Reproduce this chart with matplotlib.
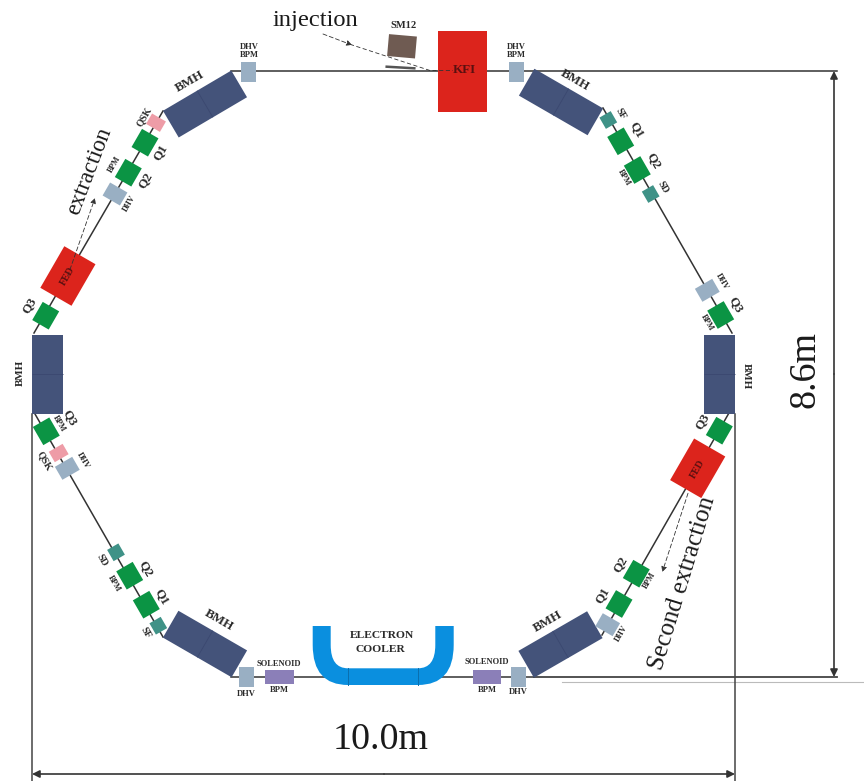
import numpy as np
import matplotlib
matplotlib.use("Agg")
import matplotlib.pyplot as plt
from matplotlib.patches import Polygon, PathPatch
from matplotlib.path import Path

plt.rcParams["font.family"] = ["Liberation Serif", "DejaVu Serif"]

W, H = 864, 781

# element centres (x, y, beam angle in degrees, image coords, y down)
BMH = [(205, 104, -30.5), (561, 102, 30), (719.5, 374.3, 90), (47.2, 374.3, 90), (205, 644, 30), (560.5, 644.5, -30)]
QUADS = [(145, 142.7, 120), (128.3, 172.7, 120), (45.7, 315.7, 120), (620.7, 141.3, 60), (637.3, 170, 60),
         (720.7, 315, 60), (719.3, 430.7, 120), (636.3, 573.7, 120), (619, 604, 120), (46.3, 431.3, 60),
         (129.7, 575.7, 60), (146.3, 604.7, 60)]
DHV = [(248.3, 72, 0), (516.3, 72, 0), (246.5, 677, 0), (518.7, 677, 0), (115, 194, 120), (707.3, 290.3, 60),
       (67.3, 468.3, 60), (607.7, 624.7, 120)]
QSK = [(156, 122.7, 120), (58.7, 453, 60)]
SEXT = [(608.3, 120, 60), (650.7, 194, 60), (116, 552.3, 60), (158.3, 625.7, 60)]
FED = [(67.9, 276, 120), (697.7, 468.3, 120)]
SOLENOID = [(279.7, 677, 0), (487, 677, 0)]

# beam line segments (x0, y0, x1, y1)
BEAM = [(231, 71, 535, 71), (603, 108, 732, 333), (729.7, 411.7, 602, 635), (231, 676.7, 534, 676.7),
        (163, 111, 34, 333), (35, 414, 163, 637)]

# (text, x, y, rotation, font px)
LABELS = [
    ("SM12", 404, 25.7, 0, 10.5), ("DHV", 249.3, 46.7, 0, 8.5), ("BPM", 249.3, 55.3, 0, 8.5),
    ("BMH", 190, 81.7, 30, 13), ("QSK", 143.7, 116.7, 60, 10), ("Q1", 160.7, 152.3, 60, 13),
    ("Q2", 145, 180, 60, 13), ("BPM", 114.3, 164, 60, 8), ("DHV", 130, 203.7, 60, 8),
    ("Q3", 29.3, 305.7, 60, 13), ("DHV", 516.3, 46.7, 0, 8.5), ("BPM", 516.3, 55.3, 0, 8.5),
    ("BMH", 575, 80.3, -30, 13), ("SF", 621, 114, -60, 10), ("Q1", 636.7, 130, -60, 13),
    ("Q2", 653.3, 160.7, -60, 13), ("BPM", 624, 177.7, -60, 8), ("SD", 663.3, 187.3, -60, 10),
    ("DHV", 722, 281.7, -60, 8), ("Q3", 735.7, 304.3, -60, 13), ("BPM", 706.7, 322.7, -60, 8),
    ("BMH", 20.3, 373.3, 90, 11), ("Q3", 70, 417.7, -60, 13), ("BPM", 59.3, 424, -60, 8),
    ("QSK", 45, 460.7, -60, 10), ("DHV", 83, 460.7, -60, 8), ("SD", 102.3, 560.3, -60, 10),
    ("Q2", 146, 568.7, -60, 13), ("BPM", 114.3, 583.3, -60, 8), ("Q1", 162, 596.7, -60, 13),
    ("SF", 146, 633.3, -60, 10), ("BMH", 219.3, 620.7, -30, 13), ("SOLENOID", 279.3, 664.3, 0, 8.5),
    ("BPM", 279.3, 689.7, 0, 8.5), ("DHV", 246, 693.7, 0, 8.5), ("ELECTRON", 381.7, 635.7, 0, 11.5),
    ("COOLER", 380, 649, 0, 11.5), ("BMH", 746.7, 375.7, -90, 11), ("Q3", 702.3, 421.7, 60, 13),
    ("Q2", 620, 564, 60, 13), ("BPM", 650, 580.7, 60, 8), ("Q1", 602.7, 595, 60, 13),
    ("BMH", 547.7, 621.7, 30, 13), ("DHV", 622, 633.3, 60, 8), ("SOLENOID", 487.3, 662, 0, 8.5),
    ("BPM", 487.3, 689.7, 0, 8.5), ("DHV", 518.7, 692, 0, 8.5),
]
DARK_LABELS = [("KFI", 464.7, 70.3, 0, 13), ("FED", 67.7, 276, 60, 10), ("FED", 697.7, 469.3, 60, 10)]
BIG_LABELS = [("injection", 315.5, 20.5, 0, 24.5), ("extraction", 89, 171, 69, 23),
              ("Second extraction", 683, 583.3, 73, 25), ("8.6m", 805, 370, 90, 38), ("10.0m", 381, 740, 0, 38)]


def px(size):
    return size * 72 / 100


def rect(ax, x, y, length, width, angle, color, zorder=3):
    a = np.radians(angle)
    u = np.array([np.cos(a), np.sin(a)]) * length / 2
    v = np.array([-np.sin(a), np.cos(a)]) * width / 2
    c = np.array([x, y])
    pts = [c - u - v, c + u - v, c + u + v, c - u + v]
    ax.add_patch(Polygon(pts, closed=True, facecolor=color, edgecolor="none", zorder=zorder))
    return c, u, v


def dim_arrow(ax, p0, p1):
    ax.annotate("", xy=p1, xytext=p0, zorder=2,
                arrowprops=dict(arrowstyle="-|>", color="#333333", lw=1.2, mutation_scale=11, shrinkA=0, shrinkB=0))


def dash_arrow(ax, p0, p1):
    ax.annotate("", xy=p1, xytext=p0, zorder=5,
                arrowprops=dict(arrowstyle="-|>", color="#333333", lw=0.6, ls=(0, (5, 3)), mutation_scale=8,
                                shrinkA=0, shrinkB=0))


fig = plt.figure(figsize=(W / 100, H / 100), dpi=100)
ax = fig.add_axes([0, 0, 1, 1])
ax.set_xlim(0, W)
ax.set_ylim(H, 0)
ax.axis("off")

for x0, y0, x1, y1 in BEAM:
    ax.plot([x0, x1], [y0, y1], color="#333333", lw=1.1, zorder=1)

# dimension lines
ax.plot([535, 837], [71, 71], color="#333333", lw=1.1, zorder=1)
ax.plot([534, 837], [676.7, 676.7], color="#444444", lw=1.3, zorder=1)
ax.plot([562, 864], [682, 682], color="#bbbbbb", lw=0.8, zorder=1)
ax.plot([31.7, 31.7], [414, 781], color="#444444", lw=1.1, zorder=1)
ax.plot([735, 735], [414, 781], color="#444444", lw=1.1, zorder=1)
dim_arrow(ax, (834, 374), (834, 71))
dim_arrow(ax, (834, 374), (834, 677))
dim_arrow(ax, (384, 774), (32, 774))
dim_arrow(ax, (384, 774), (735, 774))

for x, y, ang in BMH:
    c, u, v = rect(ax, x, y, 79.3, 31, ang, "#44537A")
    ax.plot([(c - v)[0], (c + v)[0]], [(c - v)[1], (c + v)[1]], color="#3b4870", lw=0.6,
            solid_capstyle="butt", zorder=4)
for x, y, ang in QUADS:
    rect(ax, x, y, 21, 19, ang, "#0B9444")
for x, y, ang in DHV:
    rect(ax, x, y, 20, 15, ang + 90, "#99AFC3")
for x, y, ang in QSK:
    rect(ax, x, y, 12, 16, ang, "#EE9CA7")
for x, y, ang in SEXT:
    rect(ax, x, y, 13, 13, ang, "#3F9287")
for x, y, ang in FED:
    rect(ax, x, y, 48, 36, ang, "#DC241C")
for x, y, ang in SOLENOID:
    rect(ax, x, y, 28.7, 13.5, ang, "#8B7FB8")
rect(ax, 462.8, 71.3, 49, 81.4, 0, "#DC241C")
rect(ax, 402, 46.3, 28, 22, 5, "#6F5B52")
ax.plot([386.7, 414.3], [66.7, 68.3], color="#555555", lw=1.8, zorder=3)

# electron cooler U shape
verts = [(312.7, 626), (312.7, 645), (312.7, 685), (348, 685), (348, 685), (418, 685), (418, 685),
         (453.7, 685), (453.7, 645), (453.7, 626), (435.3, 626), (435.3, 645), (435.3, 668.3), (418, 668.3),
         (348, 668.3), (348, 668.3), (330.7, 668.3), (330.7, 645), (330.7, 626), (312.7, 626)]
codes = [Path.MOVETO, Path.LINETO, Path.CURVE3, Path.CURVE3, Path.LINETO, Path.LINETO, Path.LINETO,
         Path.CURVE3, Path.CURVE3, Path.LINETO, Path.LINETO, Path.LINETO, Path.CURVE3, Path.CURVE3,
         Path.LINETO, Path.LINETO, Path.CURVE3, Path.CURVE3, Path.LINETO, Path.CLOSEPOLY]
ax.add_patch(PathPatch(Path(verts, codes), facecolor="#0A8FDF", edgecolor="none", zorder=3))
for xd in (348.3, 418.3):
    ax.plot([xd, xd], [668.3, 685], color="#0b6fae", lw=0.7, zorder=4)

# injection / extraction paths
dash_arrow(ax, (323, 34), (352, 45))
ax.plot([350, 430, 453], [44.3, 70.5, 70.5], color="#333333", lw=0.6, ls=(0, (5, 3)), zorder=5)
dash_arrow(ax, (67.7, 276), (95, 198))
dash_arrow(ax, (688, 493.3), (662.3, 572))

for text, x, y, rot, size in LABELS:
    ax.text(x, y, text, rotation=rot, rotation_mode="anchor", ha="center", va="center", fontsize=px(size),
            fontweight="bold", color="#2a2a2a", zorder=6)
for text, x, y, rot, size in DARK_LABELS:
    ax.text(x, y, text, rotation=rot, rotation_mode="anchor", ha="center", va="center", fontsize=px(size),
            fontweight="bold", color="#5a1010", zorder=6)
for text, x, y, rot, size in BIG_LABELS:
    ax.text(x, y, text, rotation=rot, rotation_mode="anchor", ha="center", va="center", fontsize=px(size),
            color="#1a1a1a", zorder=6)

fig.savefig("out.png", dpi=100, facecolor="white")
